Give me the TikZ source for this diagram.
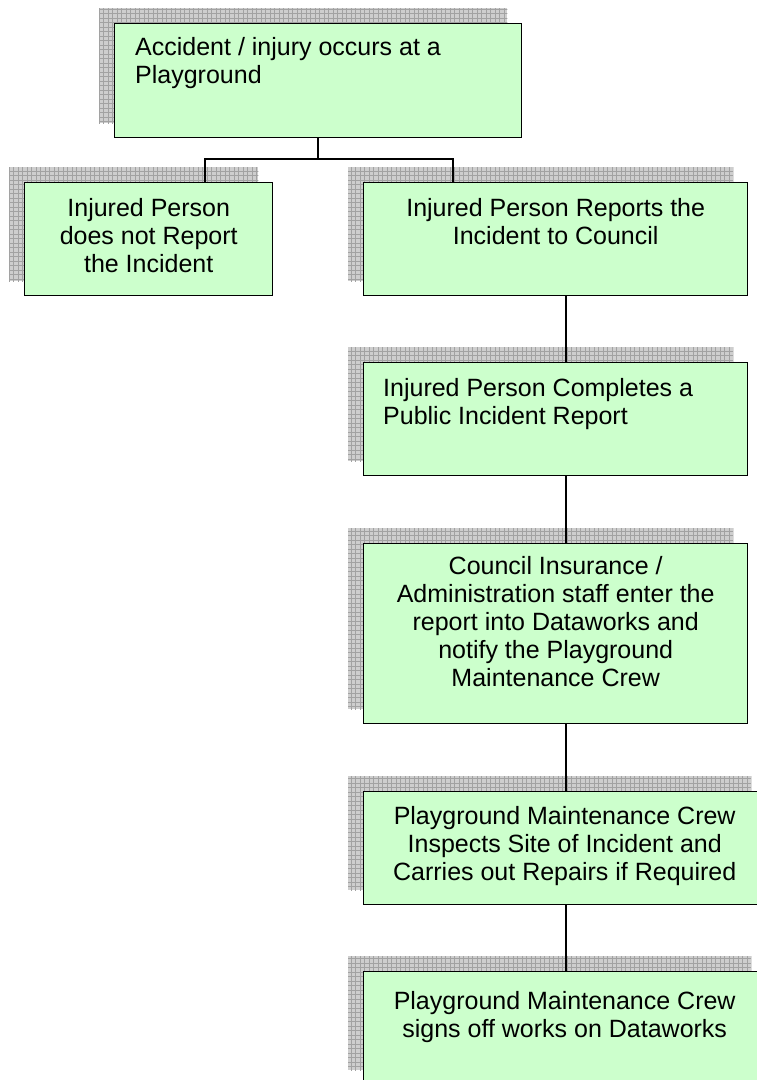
\documentclass[tikz,border=0pt]{standalone}
\usepackage{fontspec}
\setmainfont{Liberation Sans}
\usetikzlibrary{positioning,calc,backgrounds}
\definecolor{boxgreen}{HTML}{CCFFCC}
\definecolor{shadebg}{HTML}{CECECE}
\definecolor{shadeln}{HTML}{A2A2A2}

\begin{document}
\begin{tikzpicture}[x=1pt,y=-1pt,
    box/.style={draw,line width=1.4pt,fill=boxgreen,anchor=north west,inner sep=0pt},
    txt/.style={inner sep=0pt,font=\fontsize{25}{28}\selectfont},
    link/.style={line width=1.3pt}]
    \useasboundingbox (0,0) rectangle (757,1080);
    \clip (0,0) rectangle (757,1080);

    \coordinate (J) at (318,159); % under the top box
    \coordinate (JL) at (205,159);
    \coordinate (JR) at (453,159);
    \coordinate (T) at (566,0); % right column trunk

    \node[box,minimum width=407pt,minimum height=114pt] (acc) at (114,23) {};
    \node[box,minimum width=248pt,minimum height=113pt] (norep) at (24,182) {};
    \node[box,minimum width=384pt,minimum height=113pt] (rep) at (363,182) {};
    \node[box,minimum width=384pt,minimum height=113pt] (form) at (363,362) {};
    \node[box,minimum width=384pt,minimum height=180pt] (enter) at (363,543) {};
    \node[box,minimum width=402pt,minimum height=113pt] (inspect) at (363,791) {};
    \node[box,minimum width=402pt,minimum height=113pt] (signoff) at (363,971) {};

    % grid shadows, up and to the left
    \begin{scope}[on background layer]
    \foreach \b in {acc,norep,rep,form,enter,inspect,signoff}{
        \begin{scope}
        \clip ($(\b.north west)+(-15,-15)$) rectangle ($(\b.south east)+(-15,-15)$);
        \fill[shadebg] ($(\b.north west)+(-15,-15)$) rectangle ($(\b.south east)+(-15,-15)$);
        \draw[shadeln,line width=0.4pt,step=4.5pt] ($(\b.north west)+(-17,-17)$) grid ($(\b.south east)+(-13,-13)$);
        \end{scope}
    }
    \end{scope}

    \node[txt,align=left,below right=14pt and 21pt of acc.north west] (acc-t) {Accident / injury occurs at a\\Playground};
    \node[txt,align=center,below=16pt of norep.north] (norep-t) {Injured Person\\does not Report\\the Incident};
    \node[txt,align=center,below=16pt of rep.north] (rep-t) {Injured Person Reports the\\Incident to Council};
    \node[txt,align=left,below right=16pt and 20pt of form.north west] (form-t) {Injured Person Completes a\\Public Incident Report};
    \node[txt,align=center,below=13pt of enter.north] (enter-t) {Council Insurance /\\Administration staff enter the\\report into Dataworks and\\notify the Playground\\Maintenance Crew};
    \node[txt,align=center,below=15pt of inspect.north] (inspect-t) {Playground Maintenance Crew\\Inspects Site of Incident and\\Carries out Repairs if Required};
    \node[txt,align=center,below=20pt of signoff.north] (signoff-t) {Playground Maintenance Crew\\signs off works on Dataworks};

    \draw[link] (acc.south -| J) -- (J);
    \draw[link] (norep.north -| JL) |- (JR) -- (rep.north -| JR);
    \foreach \a/\b in {rep/form,form/enter,enter/inspect,inspect/signoff}
        \draw[link] (\a.south -| T) -- (\b.north -| T);

\end{tikzpicture}
\end{document}
